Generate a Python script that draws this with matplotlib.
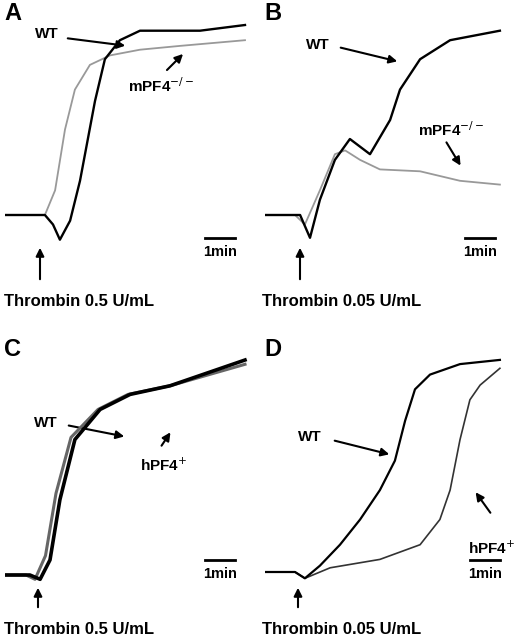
import matplotlib.pyplot as plt

# aggregation traces: time (min) vs aggregation (%)
a_wt_t = [0, 1.33, 1.6, 1.83, 2.17, 2.5, 3.0, 3.33, 3.83, 4.5, 5.5, 6.5, 8.0]
a_wt = [0, 0, -5, -13, -3, 18, 60, 82, 92, 97, 97, 97, 100]
a_ko_t = [0, 1.0, 1.33, 1.67, 2.0, 2.33, 2.83, 3.5, 4.5, 5.83, 8.0]
a_ko = [0, 0, 0, 13, 45, 66, 79, 84, 87, 89, 92]

b_wt_t = [0, 1.17, 1.5, 1.83, 2.33, 2.83, 3.5, 4.17, 4.5, 5.17, 6.17, 7.83]
b_wt = [0, 0, -12, 8, 29, 40, 32, 50, 66, 82, 92, 97]
b_ko_t = [0, 1.0, 1.33, 1.83, 2.33, 2.67, 3.17, 3.83, 5.17, 6.5, 7.83]
b_ko = [0, 0, -5, 13, 32, 34, 29, 24, 23, 18, 16]

c_wt_t = [0, 0.83, 1.17, 1.5, 1.83, 2.33, 3.17, 4.17, 5.5, 8.0]
c_wt = [0, 0, -2, 7, 35, 63, 77, 84, 88, 100]
c_tg_t = [0, 0.7, 1.0, 1.35, 1.7, 2.2, 3.1, 4.1, 5.5, 8.0]
c_tg = [0, 0, -2, 9, 38, 64, 77, 84, 88, 98]

d_wt_t = [0, 1.0, 1.33, 1.83, 2.5, 3.17, 3.83, 4.33, 4.67, 5.0, 5.5, 6.5, 7.83]
d_wt = [0, 0, -3, 3, 13, 25, 39, 53, 72, 87, 94, 99, 101]
d_tg_t = [0, 1.0, 1.33, 2.17, 3.83, 5.17, 5.83, 6.17, 6.5, 6.83, 7.17, 7.83]
d_tg = [0, 0, -3, 2, 6, 13, 25, 39, 63, 82, 89, 97]

W, H = 520, 640
fig = plt.figure(figsize=(5.2, 6.4), dpi=100)
ov = fig.add_axes([0, 0, 1, 1])
ov.set_xlim(0, W)
ov.set_ylim(H, 0)
ov.axis("off")

PXMIN = 30.0


def trace_axes(x0, yb, scale):
    # axes box in pixels: x0..x0+250, yb-230..yb+30
    top, bot = yb - 230, yb + 30
    ax = fig.add_axes([x0 / W, 1 - bot / H, 250 / W, (bot - top) / H])
    ax.set_xlim(0, 250 / PXMIN)
    ax.set_ylim((yb - bot) / scale, (yb - top) / scale)
    ax.axis("off")
    ax.patch.set_alpha(0)
    return ax


panels = [
    (5, 215, 1.9, (a_wt_t, a_wt), (a_ko_t, a_ko), "#999999", 1.3),
    (265, 215, 1.9, (b_wt_t, b_wt), (b_ko_t, b_ko), "#999999", 1.3),
    (5, 575, 2.15, (c_wt_t, c_wt), (c_tg_t, c_tg), "#666666", 2.2),
    (265, 572, 2.1, (d_wt_t, d_wt), (d_tg_t, d_tg), "#333333", 1.2),
]
for x0, yb, s, wt, other, col, lw in panels:
    ax = trace_axes(x0, yb, s)
    ax.plot(other[0], other[1], color=col, lw=lw)
    ax.plot(wt[0], wt[1], color="black", lw=lw + 0.4)

bold = dict(fontweight="bold", fontfamily="Liberation Sans")
for lbl, x, y in [("A", 4, 14), ("B", 264, 14), ("C", 4, 350), ("D", 264, 350)]:
    ov.text(x, y, lbl, fontsize=17, va="center", ha="left", **bold)

for txt, x, y in [("Thrombin 0.5 U/mL", 4, 302), ("Thrombin 0.05 U/mL", 262, 302),
                  ("Thrombin 0.5 U/mL", 4, 630), ("Thrombin 0.05 U/mL", 262, 630)]:
    ov.text(x, y, txt, fontsize=12, va="center", **bold)

arr = dict(arrowstyle="-|>", color="black", lw=1.5, mutation_scale=12)
# stimulus arrows
for x, y0, y1 in [(40, 282, 245), (300, 282, 245), (38, 610, 585), (298, 610, 585)]:
    ov.annotate("", xy=(x, y1), xytext=(x, y0), arrowprops=arr)

# label arrows
labels = [
    ("WT", 35, 34, 65, 38, 128, 46),
    ("mPF4$^{-/-}$", 128, 86, 165, 72, 185, 52),
    ("WT", 306, 45, 338, 47, 400, 62),
    ("mPF4$^{-/-}$", 418, 130, 445, 140, 462, 168),
    ("WT", 34, 423, 66, 425, 127, 437),
    ("hPF4$^{+}$", 140, 465, 160, 448, 172, 430),
    ("WT", 298, 437, 332, 440, 392, 455),
    ("hPF4$^{+}$", 468, 548, 492, 515, 474, 490),
]
for txt, tx, ty, ax0, ay0, ax1, ay1 in labels:
    ov.text(tx, ty, txt, fontsize=11, va="center", ha="left", **bold)
    ov.annotate("", xy=(ax1, ay1), xytext=(ax0, ay0), arrowprops=arr)

# scale bars
for x, y in [(205, 238), (465, 238), (205, 560), (470, 560)]:
    ov.plot([x, x + 30], [y, y], color="black", lw=2)
    ov.text(x + 15, y + 14, "1min", fontsize=10.5, ha="center", va="center", **bold)

fig.savefig("out.png", dpi=100)
